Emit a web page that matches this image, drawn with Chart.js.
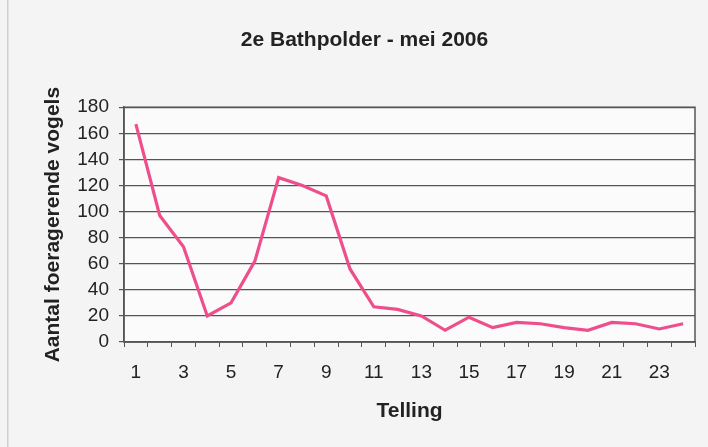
<!DOCTYPE html>
<html>
<head>
<meta charset="utf-8">
<script src="https://cdn.jsdelivr.net/npm/chart.js@4/dist/chart.umd.min.js"></script>
<style>
  html, body { margin: 0; padding: 0; background: #f4f4f4; }
  canvas { display: block; }
</style>
</head>
<body>
<canvas id="linechart" width="708" height="447"></canvas>
<script>
"use strict";

// Counts (tellingen) 1..24
const tellingen = ['1', '2', '3', '4', '5', '6', '7', '8', '9', '10', '11', '12',
                   '13', '14', '15', '16', '17', '18', '19', '20', '21', '22', '23', '24'];
const vogels = [167, 97, 73, 20, 30, 62, 126, 120, 112, 56, 27, 25,
                20, 9, 19, 11, 15, 14, 11, 9, 15, 14, 10, 14];
const yTicks = [0, 20, 40, 60, 80, 100, 120, 140, 160, 180];

const FONT = "'Liberation Sans', Arial, sans-serif";

// Paper background, plot fill and frame around the plot area
const frame = {
    id: 'frame',
    beforeDraw(chart) {
        const ctx = chart.ctx, a = chart.chartArea;
        ctx.save();
        ctx.fillStyle = '#f4f4f4';
        ctx.fillRect(0, 0, chart.width, chart.height);
        ctx.fillStyle = '#d0d0d0';
        ctx.fillRect(7, 0, 1.5, chart.height);
        ctx.fillStyle = '#fbfbfb';
        ctx.fillRect(a.left, a.top, a.right - a.left, a.bottom - a.top);
        ctx.restore();
    },
    afterDatasetsDraw(chart) {
        const ctx = chart.ctx, a = chart.chartArea;
        ctx.save();
        ctx.strokeStyle = '#555';
        ctx.lineWidth = 1.5;
        ctx.strokeRect(a.left, a.top, a.right - a.left, a.bottom - a.top);
        ctx.restore();
    }
};

new Chart(document.getElementById('linechart'), {
    type: 'line',
    data: {
        labels: tellingen,
        datasets: [{
            label: 'Aantal foeragerende vogels',
            data: vogels,
            borderColor: '#ee4f8b',
            borderWidth: 3.2,
            pointRadius: 0,
            tension: 0
        }]
    },
    options: {
        responsive: false,
        animation: false,
        layout: { padding: { left: 34, right: 13, top: 0, bottom: 0 } },
        plugins: {
            legend: { display: false },
            tooltip: { enabled: false },
            title: {
                display: true,
                text: '2e Bathpolder - mei 2006',
                color: '#222',
                font: { family: FONT, size: 21, weight: 'bold' },
                padding: { top: 28, bottom: 54 }
            }
        },
        scales: {
            x: {
                offset: true,
                afterFit: s => { s.height = 105; },
                grid: {
                    offset: true,
                    drawOnChartArea: false,
                    color: '#555',
                    tickLength: 5
                },
                border: { color: '#555', width: 1.5 },
                ticks: {
                    autoSkip: false,
                    maxRotation: 0,
                    padding: 14,
                    color: '#222',
                    font: { family: FONT, size: 19 },
                    callback: (v, i) => (i % 2 === 0 ? tellingen[i] : '')
                },
                title: {
                    display: true,
                    text: 'Telling',
                    color: '#222',
                    font: { family: FONT, size: 21, weight: 'bold' },
                    padding: { top: 0, bottom: 23 }
                }
            },
            y: {
                min: yTicks[0],
                max: yTicks[yTicks.length - 1],
                afterFit: s => { s.width = 90; },
                afterBuildTicks: s => { s.ticks = yTicks.map(v => ({ value: v })); },
                grid: { color: '#555', lineWidth: 1.2, tickLength: 5 },
                border: { color: '#555', width: 1.5 },
                ticks: {
                    padding: 10,
                    color: '#222',
                    font: { family: FONT, size: 19 }
                },
                title: {
                    display: true,
                    text: 'Aantal foeragerende vogels',
                    color: '#222',
                    font: { family: FONT, size: 21, weight: 'bold' },
                    padding: { top: 7, bottom: 0 }
                }
            }
        }
    },
    plugins: [frame]
});
</script>
</body>
</html>
